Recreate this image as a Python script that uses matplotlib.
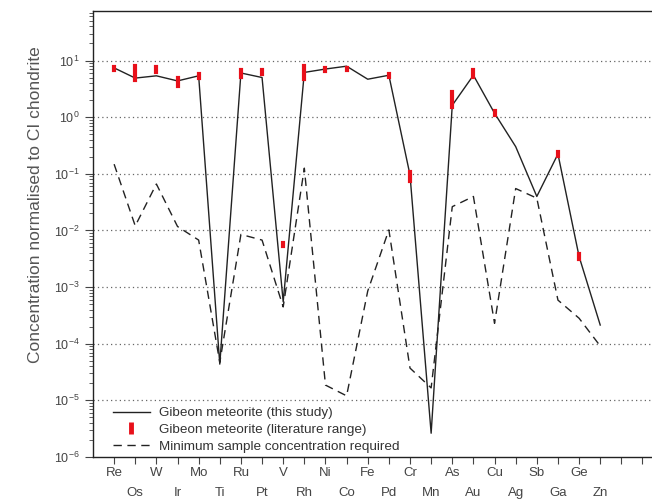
import numpy as np
import matplotlib
matplotlib.use("Agg")
import matplotlib.pyplot as plt
from matplotlib.lines import Line2D
from matplotlib.ticker import LogLocator, NullFormatter

plt.rcParams['font.family'] = ['Liberation Sans', 'DejaVu Sans']

# Elements in plotting order
elements = ["Re", "Os", "W", "Ir", "Mo", "Ti", "Ru", "Pt", "V", "Rh", "Ni", "Co",
            "Fe", "Pd", "Cr", "Mn", "As", "Au", "Cu", "Ag", "Sb", "Ga", "Ge", "Zn"]

# log10 of concentration normalised to CI chondrite
this_study_log = [0.87, 0.69, 0.73, 0.64, 0.73, -4.36, 0.78, 0.70, -3.26, 0.79, 0.85, 0.90,
                  0.67, 0.74, -1.02, -5.58, 0.21, 0.74, 0.07, -0.52, -1.40, -0.65, -2.46, -3.67]
min_sample_log = [-0.83, -1.92, -1.18, -1.93, -2.17, -4.33, -2.07, -2.17, -3.35, -0.90, -4.73, -4.92,
                  -3.07, -1.99, -4.43, -4.78, -1.58, -1.40, -3.64, -1.26, -1.43, -3.23, -3.55, -4.04]

# literature ranges (low, high) in log10, element name
lit_elements = ["Re", "Os", "W", "Ir", "Mo", "Ru", "Pt", "V", "Rh", "Ni", "Co", "Pd",
                "Cr", "As", "Au", "Cu", "Ga", "Ge"]
lit_low_log = [0.83, 0.66, 0.80, 0.55, 0.69, 0.71, 0.76, -2.28, 0.67, 0.82, 0.83, 0.71,
               -1.12, 0.18, 0.71, 0.03, -0.69, -2.50]
lit_high_log = [0.89, 0.90, 0.89, 0.69, 0.76, 0.83, 0.83, -2.22, 0.90, 0.87, 0.87, 0.77,
                -0.96, 0.45, 0.83, 0.11, -0.62, -2.42]

x = np.arange(1, len(elements) + 1)
this_study = 10.0 ** np.array(this_study_log)
min_sample = 10.0 ** np.array(min_sample_log)
lit_x = [elements.index(e) + 1 for e in lit_elements]
lit_low = 10.0 ** np.array(lit_low_log)
lit_high = 10.0 ** np.array(lit_high_log)

fig = plt.figure(figsize=(6.52, 5.01), dpi=100)
ax = fig.add_axes([0.1426, 0.0878, 0.8574, 0.8902])

ax.plot(x, this_study, color="#222222", lw=1.0, zorder=3)
ax.plot(x, min_sample, color="#222222", lw=1.0, dashes=(6, 4), zorder=3)
for xi, lo, hi in zip(lit_x, lit_low, lit_high):
    ax.plot([xi, xi], [lo, hi], color="#e8101a", lw=3.0, solid_capstyle="projecting", zorder=4)

ax.set_yscale("log")
ax.set_ylim(1e-6, 10 ** 1.874)
ax.set_xlim(0, 26.45)

# horizontal dotted grid at decades
for d in range(-5, 2):
    ax.axhline(10.0 ** d, color="#666666", lw=0.9, ls=(0, (1, 2.5)), zorder=1)

ax.yaxis.set_major_locator(LogLocator(base=10, numticks=20))
ax.yaxis.set_minor_locator(LogLocator(base=10, subs=np.arange(2, 10), numticks=20))
ax.yaxis.set_minor_formatter(NullFormatter())
ax.tick_params(axis="y", which="major", length=6, width=0.8, labelsize=9, colors="#444444")
ax.tick_params(axis="y", which="minor", length=3, width=0.6, colors="#444444")

labels = [e if i % 2 == 0 else "\n" + e for i, e in enumerate(elements)]
ax.set_xticks(x)
ax.set_xticklabels(labels)
ax.set_xticks([25, 26], minor=True)
ax.tick_params(axis="x", which="both", length=5, width=0.8, labelsize=9.5, colors="#444444", pad=2)
for t in ax.get_xticklabels():
    t.set_linespacing(1.9)

for side in ["left", "bottom", "top"]:
    ax.spines[side].set_color("#222222")
    ax.spines[side].set_linewidth(1.0)
ax.spines["right"].set_visible(False)

ax.set_ylabel("Concentration normalised to CI chondrite", fontsize=12.5, color="#555555")
ax.yaxis.set_label_coords(-0.09, 0.565)

handles = [
    Line2D([], [], color="#222222", lw=1.0),
    Line2D([], [], color="#e8101a", lw=0, marker="|", markersize=8, markeredgewidth=3.5),
    Line2D([], [], color="#222222", lw=1.0, dashes=(6, 4)),
]
leg_labels = ["Gibeon meteorite (this study)", "Gibeon meteorite (literature range)",
              "Minimum sample concentration required"]
leg = ax.legend(handles, leg_labels, loc="lower left", bbox_to_anchor=(0.016, -0.015),
                frameon=False, fontsize=9.7, handlelength=2.75, handletextpad=0.67,
                labelspacing=0.32, borderpad=0.3)
for t in leg.get_texts():
    t.set_color("#333333")

fig.savefig("out.png", dpi=100)
